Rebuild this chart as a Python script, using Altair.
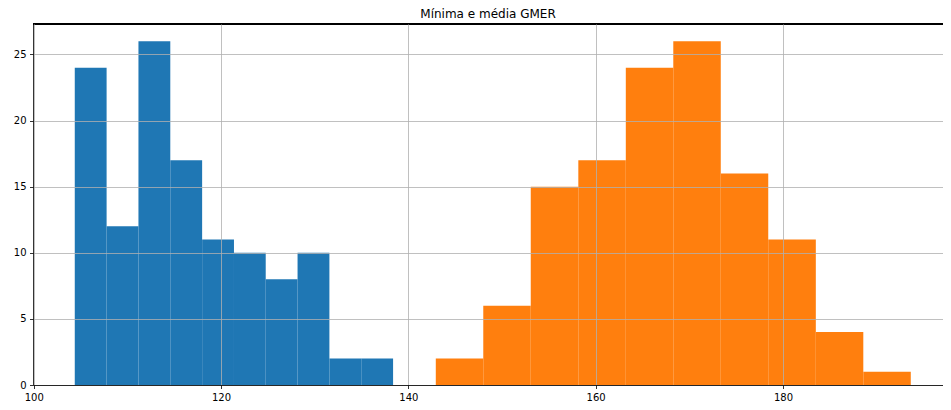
import altair as alt
import pandas as pd

# Blue series (Mínima) histogram: bin edges and counts
blue_edges = [104.38, 107.78, 111.18, 114.58, 117.98, 121.38, 124.77, 128.17, 131.57, 134.97, 138.37]
blue_counts = [24, 12, 26, 17, 11, 10, 8, 10, 2, 2]

# Orange series (média) histogram: bin edges and counts
orange_edges = [142.93, 148.00, 153.07, 158.15, 163.22, 168.29, 173.36, 178.43, 183.51, 188.58, 193.65]
orange_counts = [2, 6, 15, 17, 24, 26, 16, 11, 4, 1]

x_ticks = [100, 120, 140, 160, 180]
y_ticks = [0, 5, 10, 15, 20, 25]

rows = []
for name, edges, counts in [("min", blue_edges, blue_counts), ("mean", orange_edges, orange_counts)]:
    for i, c in enumerate(counts):
        rows.append({"serie": name, "start": edges[i], "end": edges[i + 1], "count": c})
df = pd.DataFrame(rows)

W, H = 910, 361

bars = alt.Chart(df).mark_rect(strokeWidth=0).encode(
    x=alt.X("start:Q", scale=alt.Scale(domain=[99.92, 197.09], nice=False, zero=False, padding=0),
            axis=alt.Axis(values=x_ticks, title=None, grid=True, zindex=1, labelFlush=False)),
    x2="end:Q",
    y=alt.Y("count:Q", scale=alt.Scale(domain=[0, 27.3], nice=False, padding=0),
            axis=alt.Axis(values=y_ticks, title=None, grid=True, zindex=1, labelFlush=False)),
    y2=alt.datum(0),
    color=alt.Color("serie:N", scale=alt.Scale(domain=["min", "mean"], range=["#1f77b4", "#ff7f0e"]), legend=None),
)

top_spine = alt.Chart(df).mark_rule(color="#000000", strokeWidth=0.8).encode(
    x=alt.value(0), x2=alt.value(W), y=alt.value(0)
)

chart = alt.layer(bars, top_spine).properties(
    width=W, height=H,
    title=alt.TitleParams("Mínima e média GMER", fontSize=12, font="DejaVu Sans", fontWeight="normal",
                          color="#000000", anchor="middle", offset=3),
    autosize=alt.AutoSizeParams(type="none"),
    padding={"left": 25, "top": 16, "right": 0, "bottom": 17},
).configure_view(stroke=None).configure_axis(
    labelFont="DejaVu Sans", labelFontSize=10, labelColor="#000000",
    tickSize=3.5, tickColor="#000000", tickWidth=0.8, labelPadding=3.5,
    domainColor="#000000", domainWidth=0.8,
    gridColor="#b0b0b0", gridWidth=0.8, gridOpacity=1,
)

chart.save("out.html", embed_options={"renderer": "svg", "actions": False})
